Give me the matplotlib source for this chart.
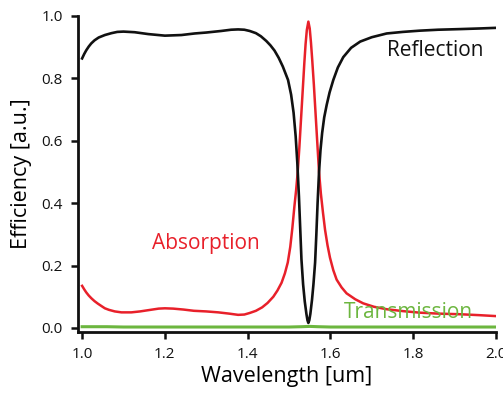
"""Reflection / absorption / transmission spectra of a narrow-band absorber."""

import matplotlib

matplotlib.use("Agg")
import matplotlib.pyplot as plt

# Reflection (black)
refl_wl = [1.000, 1.005, 1.010, 1.016, 1.022, 1.030, 1.040, 1.055, 1.071, 1.085,
           1.100, 1.127, 1.160, 1.200, 1.240, 1.272, 1.300, 1.336, 1.360, 1.377,
           1.392, 1.405, 1.420, 1.432, 1.445, 1.455, 1.465, 1.475, 1.485, 1.4976,
           1.505, 1.511, 1.516, 1.520, 1.524, 1.527, 1.530, 1.534, 1.538, 1.542,
           1.5445, 1.5467, 1.549, 1.5515, 1.5555, 1.559, 1.563, 1.566, 1.569, 1.5725,
           1.576, 1.580, 1.585, 1.591, 1.598, 1.607, 1.618, 1.631, 1.650, 1.672,
           1.700, 1.736, 1.775, 1.816, 1.860, 1.913, 1.960, 2.000]
refl = [0.864, 0.878, 0.890, 0.902, 0.912, 0.922, 0.931, 0.939, 0.945, 0.949,
        0.950, 0.948, 0.942, 0.937, 0.939, 0.944, 0.947, 0.952, 0.956, 0.957,
        0.956, 0.952, 0.945, 0.935, 0.920, 0.906, 0.889, 0.866, 0.838, 0.795,
        0.748, 0.690, 0.615, 0.530, 0.420, 0.320, 0.220, 0.140, 0.085, 0.045,
        0.025, 0.016, 0.025, 0.045, 0.090, 0.140, 0.210, 0.300, 0.400, 0.500,
        0.570, 0.625, 0.675, 0.715, 0.755, 0.795, 0.835, 0.868, 0.898, 0.918,
        0.932, 0.944, 0.949, 0.953, 0.956, 0.958, 0.960, 0.962]

# Absorption (red)
abs_wl = [1.000, 1.005, 1.010, 1.016, 1.0225, 1.030, 1.038, 1.047, 1.055, 1.065,
          1.079, 1.095, 1.119, 1.140, 1.165, 1.185, 1.200, 1.220, 1.245, 1.270,
          1.300, 1.329, 1.355, 1.377, 1.392, 1.405, 1.420, 1.435, 1.448, 1.462,
          1.472, 1.482, 1.490, 1.497, 1.503, 1.508, 1.513, 1.517, 1.521, 1.525,
          1.529, 1.533, 1.537, 1.540, 1.543, 1.5467, 1.550, 1.553, 1.556, 1.560,
          1.564, 1.568, 1.5725, 1.577, 1.582, 1.587, 1.593, 1.599, 1.607, 1.615,
          1.627, 1.639, 1.660, 1.679, 1.705, 1.736, 1.775, 1.816, 1.860, 1.913,
          1.960, 2.000]
absorp = [0.135, 0.124, 0.114, 0.104, 0.095, 0.086, 0.078, 0.070, 0.063, 0.058,
          0.053, 0.050, 0.050, 0.053, 0.058, 0.062, 0.063, 0.062, 0.059, 0.055,
          0.053, 0.050, 0.046, 0.042, 0.043, 0.048, 0.055, 0.066, 0.080, 0.100,
          0.120, 0.145, 0.175, 0.210, 0.260, 0.320, 0.390, 0.440, 0.500, 0.580,
          0.670, 0.760, 0.850, 0.910, 0.955, 0.982, 0.960, 0.915, 0.860, 0.780,
          0.690, 0.600, 0.500, 0.430, 0.370, 0.315, 0.265, 0.225, 0.185, 0.155,
          0.130, 0.111, 0.092, 0.079, 0.068, 0.060, 0.054, 0.049, 0.046, 0.044,
          0.041, 0.038]

# Transmission (green)
trans_wl = [1.00, 1.06, 1.10, 1.30, 1.50, 1.53, 1.55, 1.57, 1.60, 1.80, 2.00]
trans = [0.004, 0.004, 0.003, 0.003, 0.003, 0.004, 0.005, 0.004, 0.003, 0.003, 0.003]

x_ticks = [1.0, 1.2, 1.4, 1.6, 1.8, 2.0]
y_ticks = [0.0, 0.2, 0.4, 0.6, 0.8, 1.0]

BLACK = "#111111"
RED = "#e8202a"
GREEN = "#6cb63f"
FONT = "Open Sans"


def main() -> None:
    plt.rcParams["font.family"] = [FONT, "DejaVu Sans"]

    fig = plt.figure(figsize=(5.03, 3.97), dpi=100)
    ax = fig.add_axes([0.155, 0.1637, 0.831, 0.796])

    ax.plot(trans_wl, trans, color=GREEN, linewidth=2.2, solid_joinstyle="round")
    ax.plot(abs_wl, absorp, color=RED, linewidth=1.8, solid_joinstyle="round")
    ax.plot(refl_wl, refl, color=BLACK, linewidth=1.9, solid_joinstyle="round")

    ax.set_xlim(0.99, 2.0)
    ax.set_ylim(-0.013, 1.0)
    ax.set_xticks(x_ticks)
    ax.set_yticks(y_ticks)
    ax.set_xticklabels([f"{t:.1f}" for t in x_ticks])
    ax.set_yticklabels([f"{t:.1f}" for t in y_ticks])

    for side in ("top", "right"):
        ax.spines[side].set_visible(False)
    for side in ("left", "bottom"):
        ax.spines[side].set_linewidth(2.0)
        ax.spines[side].set_color(BLACK)
    ax.tick_params(direction="out", length=5, width=1.8, labelsize=11,
                   colors=BLACK, pad=6)

    ax.set_xlabel("Wavelength [um]", fontsize=15.5, labelpad=3)
    ax.set_ylabel("Efficiency [a.u.]", fontsize=15.5, labelpad=7)

    ax.text(1.737, 0.89, "Reflection", fontsize=15, color=BLACK, va="center")
    ax.text(1.169, 0.272, "Absorption", fontsize=15, color=RED, va="center")
    ax.text(1.633, 0.051, "Transmission", fontsize=15, color=GREEN, va="center")

    fig.savefig("out.png", dpi=100)
    plt.close(fig)


if __name__ == "__main__":
    main()
